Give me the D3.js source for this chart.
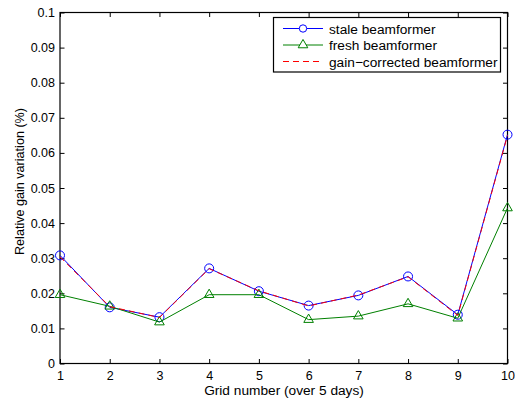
<!DOCTYPE html>
<html>
<head>
<meta charset="utf-8">
<script src="https://cdn.jsdelivr.net/npm/d3@7"></script>
<style>
  html, body { margin: 0; padding: 0; background: #fff; }
  svg { display: block; font-family: "Liberation Sans", Arial, Helvetica, sans-serif; }
</style>
</head>
<body>
<svg id="chart" width="515" height="404"></svg>
<script>
// Grid numbers and relative gain variation per beamformer
const grids = [1, 2, 3, 4, 5, 6, 7, 8, 9, 10];
const staleValues = [0.0308, 0.0160, 0.0132, 0.0271, 0.0206, 0.0165, 0.0194, 0.0248, 0.0139, 0.0652];
const freshValues = [0.0196, 0.0163, 0.0118, 0.0196, 0.0196, 0.0125, 0.0135, 0.0170, 0.0129, 0.0443];
const correctedValues = [0.0304, 0.0162, 0.0131, 0.0270, 0.0207, 0.0164, 0.0195, 0.0247, 0.0137, 0.0650];
const yTicks = [0, 0.01, 0.02, 0.03, 0.04, 0.05, 0.06, 0.07, 0.08, 0.09, 0.1];
const seriesNames = ["stale beamformer", "fresh beamformer", "gain\u2212corrected beamformer"];

const svg = d3.select("#chart");
const plotLeft = 60, plotRight = 507.5, plotTop = 12.5, plotBottom = 363.5;

const x = d3.scaleLinear().domain([1, 10]).range([plotLeft, plotRight]);
const y = d3.scaleLinear().domain([0, 0.1]).range([plotBottom, plotTop]);

const tickFont = 12.5;
const labelFont = 13.7;
const tickLen = 4.5;

// Axes: ticks point inward on all four sides
const axisG = svg.append("g");
axisG.append("g")
  .attr("transform", `translate(0,${plotBottom})`)
  .call(d3.axisBottom(x).tickValues(grids).tickSize(-tickLen).tickPadding(8).tickFormat(d3.format("d")));
axisG.append("g")
  .attr("transform", `translate(0,${plotTop})`)
  .call(d3.axisTop(x).tickValues(grids).tickSize(-tickLen).tickFormat(""));
axisG.append("g")
  .attr("transform", `translate(${plotLeft},0)`)
  .call(d3.axisLeft(y).tickValues(yTicks).tickSize(-tickLen).tickPadding(5)
    .tickFormat(d => d === 0 ? "0" : String(+d.toFixed(2))));
axisG.append("g")
  .attr("transform", `translate(${plotRight},0)`)
  .call(d3.axisRight(y).tickValues(yTicks).tickSize(-tickLen).tickFormat(""));

axisG.selectAll(".domain").remove();
axisG.selectAll(".tick line").attr("stroke", "#000").attr("stroke-width", 1);
axisG.selectAll(".tick text")
  .attr("fill", "#000")
  .style("font-size", tickFont + "px")
  .style("font-family", "'Liberation Sans', Arial, sans-serif");

// Box around the plot area
svg.append("rect")
  .attr("x", plotLeft).attr("y", plotTop)
  .attr("width", plotRight - plotLeft).attr("height", plotBottom - plotTop)
  .attr("fill", "none").attr("stroke", "#000").attr("stroke-width", 1.2);

// Axis titles
svg.append("text")
  .attr("x", 284).attr("y", 395)
  .attr("text-anchor", "middle")
  .style("font-size", labelFont + "px")
  .text("Grid number (over 5 days)");
svg.append("text")
  .attr("transform", "translate(23.5,181.5) rotate(-90)")
  .attr("text-anchor", "middle")
  .style("font-size", "12.6px")
  .text("Relative gain variation (%)");

const line = d3.line().x((d, i) => x(grids[i])).y(d => y(d));

const plotG = svg.append("g");

// Stale beamformer: blue with circle markers
plotG.append("path").datum(staleValues)
  .attr("d", line).attr("fill", "none").attr("stroke", "#0000ff").attr("stroke-width", 1);
plotG.selectAll("circle.stale").data(staleValues).enter().append("circle")
  .attr("class", "stale")
  .attr("cx", (d, i) => x(grids[i])).attr("cy", d => y(d)).attr("r", 4.5)
  .attr("fill", "none").attr("stroke", "#0000ff").attr("stroke-width", 1);

// Fresh beamformer: green with triangle markers
const tri = d3.symbol().type(d3.symbolTriangle).size(40);
plotG.append("path").datum(freshValues)
  .attr("d", line).attr("fill", "none").attr("stroke", "#008000").attr("stroke-width", 1);
plotG.selectAll("path.fresh").data(freshValues).enter().append("path")
  .attr("class", "fresh")
  .attr("d", tri)
  .attr("transform", (d, i) => `translate(${x(grids[i])},${y(d)})`)
  .attr("fill", "none").attr("stroke", "#008000").attr("stroke-width", 1);

// Gain-corrected beamformer: red dashed
plotG.append("path").datum(correctedValues)
  .attr("d", line).attr("fill", "none").attr("stroke", "#ff0000").attr("stroke-width", 1)
  .attr("stroke-dasharray", "6,4");

// Legend
const lg = svg.append("g");
lg.append("rect")
  .attr("x", 273.5).attr("y", 17.5).attr("width", 227).attr("height", 54.5)
  .attr("fill", "#fff").attr("stroke", "#000").attr("stroke-width", 1.2);
const rowsY = [28.5, 45, 61.5];
const colors = ["#0000ff", "#008000", "#ff0000"];
rowsY.forEach((ry, i) => {
  const l = lg.append("line")
    .attr("x1", 283).attr("x2", 323).attr("y1", ry).attr("y2", ry)
    .attr("stroke", colors[i]).attr("stroke-width", 1);
  if (i === 2) l.attr("stroke-dasharray", "6,4");
  lg.append("text")
    .attr("x", 329).attr("y", ry + 5)
    .style("font-size", labelFont + "px")
    .text(seriesNames[i]);
});
lg.append("circle").attr("cx", 303).attr("cy", rowsY[0]).attr("r", 3.7)
  .attr("fill", "#fff").attr("stroke", "#0000ff").attr("stroke-width", 1);
lg.append("path").attr("d", tri).attr("transform", `translate(303,${rowsY[1]})`)
  .attr("fill", "#fff").attr("stroke", "#008000").attr("stroke-width", 1);
</script>
</body>
</html>
